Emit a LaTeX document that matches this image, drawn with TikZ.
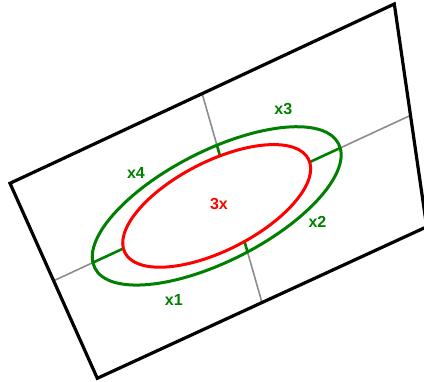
\documentclass[tikz,border=0pt]{standalone}
\usepackage{fontspec}
\setmainfont{Liberation Sans}
\usepackage{xcolor}
\usepackage{tikz}
\usetikzlibrary{calc}
\definecolor{ringgreen}{RGB}{0,128,0}
\definecolor{axisgray}{RGB}{140,140,140}

\begin{document}
\begin{tikzpicture}[x=1pt, y=1pt,
    outline/.style={draw=black, line width=3.2pt, line join=miter},
    midline/.style={draw=axisgray, line width=1.6pt},
    outer/.style={draw=ringgreen, line width=3pt},
    spoke/.style={draw=ringgreen, line width=2.6pt},
    inner/.style={draw=red, line width=3pt},
    lbl/.style={font=\fontsize{16}{19}\selectfont\bfseries, text=ringgreen, inner sep=0pt}
    ]
    \useasboundingbox (0,0) rectangle (424,-382);
    % corners of the tilted frame
    \coordinate (A) at (10,-183.3);
    \coordinate (B) at (394.3,-4);
    \coordinate (C) at (426.7,-226.8);
    \coordinate (D) at (97.3,-378.3);
    \coordinate (ctr) at (216.7,-205.9);
    \coordinate (L) at ($(A)!0.5!(D)$);
    \coordinate (R) at ($(B)!0.5!(C)$);
    \coordinate (T) at ($(A)!0.5!(B)$);
    \coordinate (S) at ($(D)!0.5!(C)$);
    \draw[midline] (L) -- (R);
    \draw[midline] (T) -- (S);
    \begin{scope}
      \clip[rotate around={27:(ctr)}] (ctr) ellipse (136.8 and 55.1);
      \fill[white] (A) -- (B) -- (C) -- (D) -- cycle;
      \draw[spoke] (L) -- (R);
      \draw[spoke] (T) -- (S);
      \fill[white, rotate around={27:(ctr)}] (ctr) ellipse (103 and 44.5);
    \end{scope}
    \draw[inner, rotate around={27:(ctr)}] (ctr) ellipse (103 and 44.5);
    \draw[outer, rotate around={27:(ctr)}] (ctr) ellipse (136.8 and 55.1);
    \draw[outline] (A) -- (B) -- (C) -- (D) -- cycle;
    % labels
    \node[lbl] (xone)   at (173.8,-300)  {x1};
    \node[lbl] (xtwo)   at (317.5,-222)  {x2};
    \node[lbl] (xthree) at (283.3,-109)  {x3};
    \node[lbl] (xfour)  at (136,-173.3)  {x4};
    \node[lbl, text=red] (three) at (219,-204) {3x};
\end{tikzpicture}
\end{document}
